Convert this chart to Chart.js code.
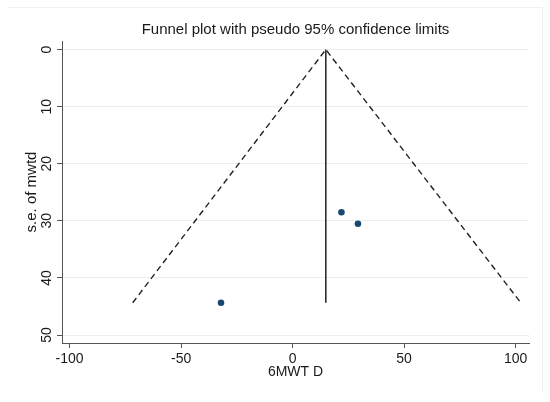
<!DOCTYPE html>
<html>
<head>
<meta charset="utf-8">
<script src="https://cdn.jsdelivr.net/npm/chart.js@4"></script>
<style>
html,body{margin:0;padding:0;background:#fff;}
#wrap{width:550px;height:402px;position:relative;}
</style>
</head>
<body>
<div id="wrap"><canvas id="c" width="550" height="402"></canvas></div>
<script>
// ---- data ----
const titleText = "Funnel plot with pseudo 95% confidence limits";
const xTitle = "6MWT D";
const yTitle = "s.e. of mwtd";
const studyEffect = [21.9, 29.3, -32.1];
const studySE = [28.5, 30.5, 44.35];
const pooledX = [14.9, 14.9];
const pooledY = [0, 44.35];
const funnelX = [-71.7, 14.9, 102.3];
const funnelY = [44.35, 0, 44.35];
const xTicks = [-100, -50, 0, 50, 100];
const yTicks = [0, 10, 20, 30, 40, 50];
const xRange = [-103.4, 106];
const yRange = [-1.5, 51.4];

const pts = (xs, ys) => xs.map((x, i) => ({x: x, y: ys[i]}));
const FONT = "'Liberation Sans', Arial, sans-serif";
const TXT = '#1a1a1a';

const titlePlugin = {
  id: 'stataTitle',
  afterDraw(chart) {
    const ctx = chart.ctx, a = chart.chartArea;
    ctx.save();
    ctx.fillStyle = TXT;
    ctx.font = "15px " + FONT;
    ctx.textAlign = 'center';
    ctx.textBaseline = 'middle';
    ctx.fillText(titleText, (a.left + a.right) / 2, 30);
    // faint outer frame (top and right)
    ctx.strokeStyle = '#edf2f4';
    ctx.lineWidth = 1;
    ctx.beginPath();
    ctx.moveTo(8, 7.5); ctx.lineTo(542.5, 7.5); ctx.lineTo(542.5, 392);
    ctx.stroke();
    ctx.restore();
  }
};

new Chart(document.getElementById('c'), {
  type: 'scatter',
  data: {
    datasets: [
      {
        label: 'funnel',
        data: pts(funnelX, funnelY),
        showLine: true,
        borderColor: '#222',
        borderWidth: 1.4,
        borderDash: [6, 4],
        pointRadius: 0,
        fill: false
      },
      {
        label: 'pooled',
        data: pts(pooledX, pooledY),
        showLine: true,
        borderColor: '#111',
        borderWidth: 1.4,
        pointRadius: 0,
        fill: false
      },
      {
        label: 'studies',
        data: pts(studyEffect, studySE),
        showLine: false,
        pointRadius: 3.3,
        pointBackgroundColor: '#1a476f',
        pointBorderColor: '#1a476f',
        pointBorderWidth: 0
      }
    ]
  },
  options: {
    responsive: false,
    animation: false,
    devicePixelRatio: 1,
    layout: {padding: {left: 0, right: 21, top: 41, bottom: 0}},
    plugins: {legend: {display: false}, tooltip: {enabled: false}, title: {display: false}},
    scales: {
      x: {
        type: 'linear',
        min: xRange[0], max: xRange[1],
        afterBuildTicks: s => { s.ticks = xTicks.map(v => ({value: v})); },
        afterFit: s => { s.height = 59; },
        grid: {drawOnChartArea: false, drawTicks: true, tickLength: 5, tickColor: '#555'},
        border: {color: '#555', width: 1},
        ticks: {font: {family: FONT, size: 14}, color: TXT, padding: 3, maxRotation: 0, minRotation: 0,
                callback: v => String(v)},
        title: {display: true, text: xTitle, font: {family: FONT, size: 14}, color: TXT, padding: {top: 0, bottom: 21.6}}
      },
      y: {
        type: 'linear',
        reverse: true,
        min: yRange[0], max: yRange[1],
        afterBuildTicks: s => { s.ticks = yTicks.map(v => ({value: v})); },
        afterFit: s => { s.width = 62; },
        grid: {color: '#e8eff2', lineWidth: 1, drawTicks: true, tickLength: 5, tickColor: '#555'},
        border: {color: '#555', width: 1},
        ticks: {font: {family: FONT, size: 14}, color: TXT, padding: 2.5, minRotation: 90, maxRotation: 90,
                crossAlign: 'center', callback: v => String(v)},
        title: {display: true, text: yTitle, font: {family: FONT, size: 15}, color: TXT, padding: {top: 22.5, bottom: 0}}
      }
    }
  },
  plugins: [titlePlugin]
});
</script>
</body>
</html>
